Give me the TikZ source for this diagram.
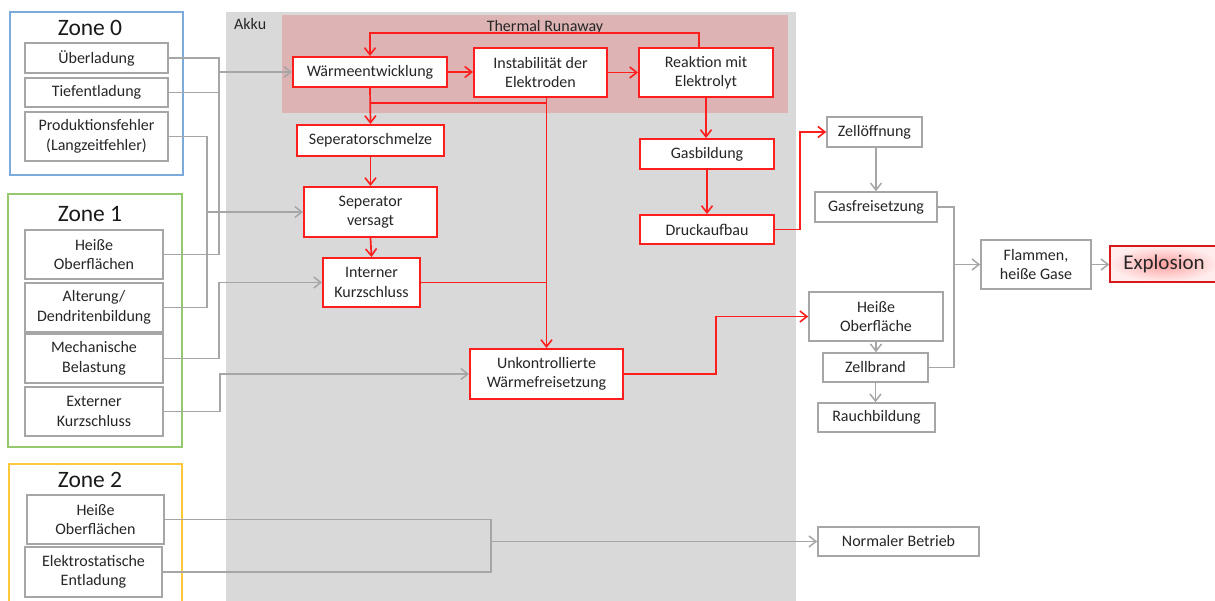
\documentclass[tikz,border=0pt]{standalone}
\usepackage{fontspec}
\setmainfont{Carlito}
\usetikzlibrary{arrows.meta,calc}
\definecolor{txt}{RGB}{38,38,38}
\definecolor{akkubg}{RGB}{217,217,217}
\definecolor{trbg}{RGB}{221,179,179}
\definecolor{lgray}{RGB}{166,166,166}
\definecolor{rred}{RGB}{255,30,30}
\definecolor{zblue}{RGB}{125,170,220}
\definecolor{zgreen}{RGB}{150,200,110}
\definecolor{zyellow}{RGB}{255,200,60}
\begin{document}
\begin{tikzpicture}[x=1pt,y=-1pt,
  every node/.style={font=\fontsize{16}{19.5}\selectfont, text=txt, align=center, inner sep=0pt},
  sz/.style 2 args={minimum width=#1pt, minimum height=#2pt},
  gbox/.style={draw=lgray, fill=white, line width=1.6pt},
  rbox/.style={draw=rred, fill=white, line width=2pt},
  greyconn/.style={draw=lgray, line width=1.6pt},
  greyarrow/.style={greyconn, -{Straight Barb[length=7pt,width=11pt,line width=1.5pt]}},
  redconn/.style={draw=rred, line width=1.7pt},
  redarrow/.style={redconn, -{Straight Barb[length=7pt,width=11pt,line width=1.6pt]}},
  zonebox/.style={line width=1.8pt},
  zonetitle/.style={font=\fontsize{23.5}{26}\selectfont, text=black!90}
]
\useasboundingbox (0,0) rectangle (1215,601);
\clip (0,0) rectangle (1215,601);
\fill[white] (0,0) rectangle (1215,601);

% backgrounds
\fill[akkubg] (226,12) rectangle (796,605);
\fill[trbg] (282,15) rectangle (788,113);
\node[anchor=west] (akku) at (234,24) {Akku};
\node (tr) at (545,27) {Thermal Runaway};

% zones
\draw[zonebox, draw=zblue] (10,12) rectangle (183,175);
\draw[zonebox, draw=zgreen] (8,194) rectangle (182,447);
\draw[zonebox, draw=zyellow] (9,464) rectangle (182,610);
\node[zonetitle] (z0) at (90,28) {Zone 0};
\node[zonetitle] (z1) at (90,214) {Zone 1};
\node[zonetitle] (z2) at (90,480) {Zone 2};

% zone 0 items
\node[gbox, sz={143}{30}] (ueber) at (96.5,58) {Überladung};
\node[gbox, sz={143}{29}] (tief) at (96.5,92.5) {Tiefentladung};
\node[gbox, sz={143}{49}] (prod) at (96.5,136.5) {Produktionsfehler\\(Langzeitfehler)};
% zone 1 items
\node[gbox, sz={138}{49}] (heiss1) at (94,254.5) {Heiße\\Oberflächen};
\node[gbox, sz={138}{49}] (alter) at (94,307.5) {Alterung/\\Dendritenbildung};
\node[gbox, sz={138}{49}] (mech) at (94,358.5) {Mechanische\\Belastung};
\node[gbox, sz={138}{49}] (extern) at (94,411.5) {Externer\\Kurzschluss};
% zone 2 items
\node[gbox, sz={137}{49}] (heiss2) at (95.5,519.5) {Heiße\\Oberflächen};
\node[gbox, sz={137}{50}] (elektro) at (93.5,572) {Elektrostatische\\Entladung};

% red boxes
\node[rbox, sz={154}{30}] (waerme) at (370,72) {Wärmeentwicklung};
\node[rbox, sz={133}{49}] (instab) at (540.5,72.5) {Instabilität der\\Elektroden};
\node[rbox, sz={134}{49}] (reakt) at (706,72.5) {Reaktion mit\\Elektrolyt};
\node[rbox, sz={147}{31}] (sepschm) at (370.5,140.5) {Seperatorschmelze};
\node[rbox, sz={133}{50}] (sepvers) at (370.5,212) {Seperator\\versagt};
\node[rbox, sz={97}{49}] (intern) at (371.5,282.5) {Interner\\Kurzschluss};
\node[rbox, sz={153}{50}] (unkontr) at (546.5,374) {Unkontrollierte\\Wärmefreisetzung};
\node[rbox, sz={134}{30}] (gasb) at (707,154) {Gasbildung};
\node[rbox, sz={134}{29}] (druck) at (707,229.5) {Druckaufbau};

% right grey boxes
\node[gbox, sz={95}{30}] (zell) at (874.5,132) {Zellöffnung};
\node[gbox, sz={122}{30}] (gasfrei) at (876,207) {Gasfreisetzung};
\node[gbox, sz={110}{49}] (flammen) at (1036,264.5) {Flammen,\\heiße Gase};
\node[draw=rred!85!black, line width=1.5pt, inner color=rred!42!white, outer color=rred!8!white, sz={108}{36}, font=\fontsize{21}{24}\selectfont] (explo) at (1164,264) {Explosion};
\node[gbox, sz={134}{49}] (heisseO) at (876,316.5) {Heiße\\Oberfläche};
\node[gbox, sz={105}{29}] (zellbrand) at (875.5,367.5) {Zellbrand};
\node[gbox, sz={117}{29}] (rauch) at (876.5,417.5) {Rauchbildung};
\node[gbox, sz={161}{29}] (normal) at (898.5,541.5) {Normaler Betrieb};

% junction coordinates
\coordinate (ja) at (219,0);
\coordinate (jb) at (207,0);
\coordinate (jd) at (220,0);
\coordinate (je) at (491,0);
\coordinate (jr) at (546.5,103);
\coordinate (jloop) at (0,33);
\coordinate (ju) at (716,0);
\coordinate (jz) at (800,0);
\coordinate (jf) at (954,0);

% grey connectors left
\draw[greyconn] (ueber.east) -| (ja |- heiss1.east) -- (heiss1.east);
\draw[greyconn] (tief.east) -- (ja |- tief.east);
\draw[greyarrow] (ja |- waerme.west) -- (waerme.west);
\draw[greyconn] (prod.east) -| (jb |- alter.east) -- (alter.east);
\draw[greyarrow] (jb |- sepvers.west) -- (sepvers.west);
\draw[greyarrow] (mech.east) -| (ja |- intern.west) -- (intern.west);
\draw[greyarrow] (extern.east) -| (jd |- unkontr.west) -- (unkontr.west);
\draw[greyconn] (heiss2.east) -| (je |- elektro.east) -- (elektro.east);
\draw[greyarrow] (je |- normal.west) -- (normal.west);

% red connectors
\draw[redarrow] (waerme.east) -- (instab.west |- waerme.east);
\draw[redarrow] (instab.east) -- (reakt.west);
\draw[redarrow] ([xshift=-7pt]reakt.north) -- ([xshift=-7pt]reakt.north |- jloop) -| (waerme.north);
\draw[redarrow] (waerme.south) -- (sepschm.north);
\draw[redconn] (waerme.south |- jr) -- (jr);
\draw[redarrow] (instab.south -| unkontr.north) -- (unkontr.north);
\draw[redconn] (intern.east) -- (intern.east -| unkontr.north);
\draw[redarrow] (sepschm.south) -- (sepvers.north);
\draw[redarrow] (sepvers.south) -- (intern.north);
\draw[redarrow] (unkontr.east) -| (ju |- heisseO.west) -- (heisseO.west);
\draw[redarrow] (reakt.south) -- (gasb.north -| reakt.south);
\draw[redarrow] (gasb.south) -- (druck.north);
\draw[redarrow] (druck.east) -| (jz |- zell.west) -- (zell.west);

% grey connectors right
\draw[greyarrow] (zell.south -| gasfrei.north) -- (gasfrei.north);
\draw[greyconn] (gasfrei.east) -| (jf |- zellbrand.east) -- (zellbrand.east);
\draw[greyarrow] (jf |- flammen.west) -- (flammen.west);
\draw[greyarrow] (flammen.east) -- (explo.west |- flammen.east);
\draw[greyarrow] (heisseO.south) -- (zellbrand.north -| heisseO.south);
\draw[greyarrow] (zellbrand.south) -- (rauch.north -| zellbrand.south);
\end{tikzpicture}
\end{document}
